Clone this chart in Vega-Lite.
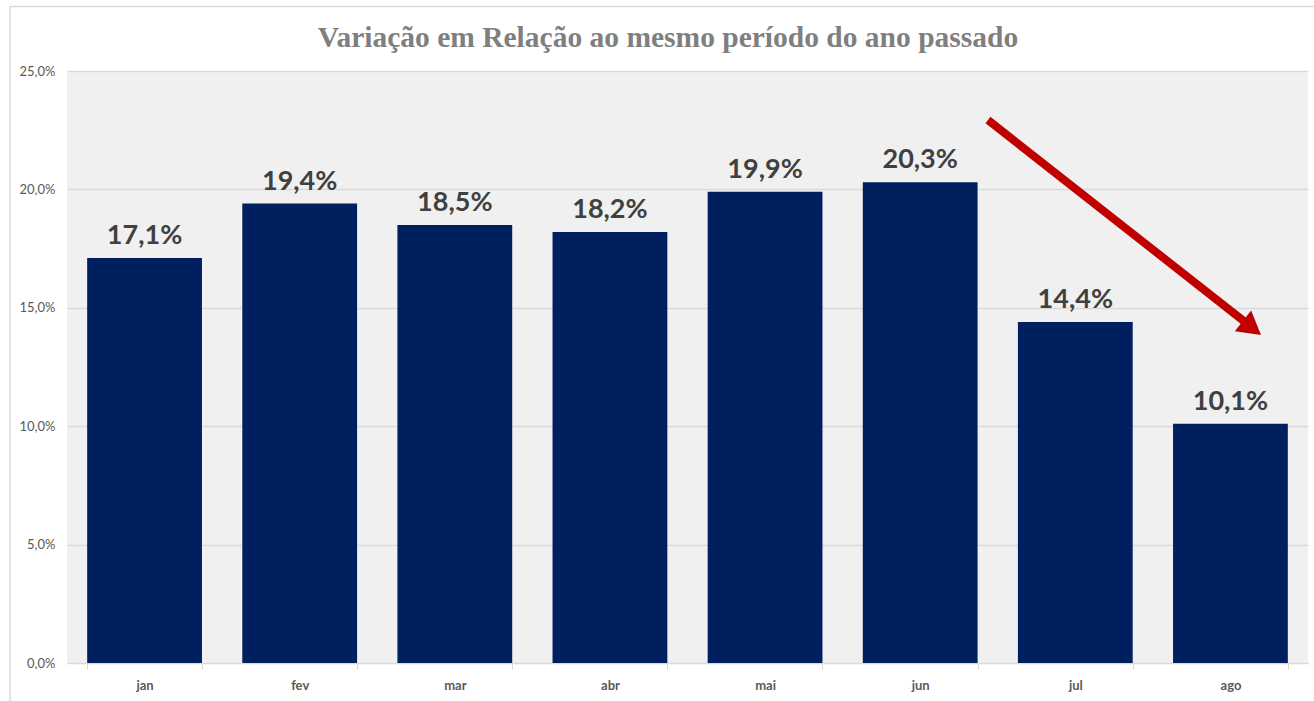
{
  "$schema": "https://vega.github.io/schema/vega-lite/v6.json",
  "width": 1241,
  "height": 592,
  "autosize": {"type": "none"},
  "padding": {"left": 67, "top": 71, "right": 6, "bottom": 38},
  "background": "white",
  "title": {
    "text": "Variação em Relação ao mesmo período do ano passado",
    "font": "Liberation Serif",
    "fontSize": 29.5,
    "fontWeight": "bold",
    "color": "#7f7f7f",
    "anchor": "middle",
    "frame": "group",
    "dx": -19.5,
    "offset": -48
  },
  "config": {
    "locale": {"number": {"decimal": ",", "thousands": ".", "grouping": [3], "currency": ["R$", ""]}},
    "view": {"fill": "#f0f0f0", "stroke": null}
  },
  "datasets": {
    "frame": [{"x": -0.367, "x2": 8.2, "y": 0.2772, "y2": -0.03}],
    "arrow": [{"x": 5.937, "y": 0.2293, "x2": 7.594, "y2": 0.144}],
    "head": [{"x": 7.639, "y": 0.1415}]
  },
  "data": {"values": [
    {"mes": "jan", "v": 0.171},
    {"mes": "fev", "v": 0.194},
    {"mes": "mar", "v": 0.185},
    {"mes": "abr", "v": 0.182},
    {"mes": "mai", "v": 0.199},
    {"mes": "jun", "v": 0.203},
    {"mes": "jul", "v": 0.144},
    {"mes": "ago", "v": 0.101}
  ]},
  "layer": [
    {
      "mark": {"type": "bar", "color": "#001f5f"},
      "encoding": {
        "x": {
          "field": "mes", "type": "nominal", "sort": null,
          "scale": {"paddingInner": 0.26, "paddingOuter": 0.13},
          "axis": {
            "title": null, "labelAngle": 0, "labelFont": "Lato", "labelFontSize": 13,
            "labelFontWeight": "bold", "labelColor": "#595959", "labelPadding": 10,
            "domainColor": "#d9d9d9", "tickColor": "#d9d9d9", "tickSize": 6,
            "tickBand": "extent", "grid": false
          }
        },
        "y": {
          "field": "v", "type": "quantitative",
          "scale": {"domain": [0, 0.25], "nice": false},
          "axis": {
            "title": null, "format": ".1%", "values": [0, 0.05, 0.1, 0.15, 0.2, 0.25],
            "labelFont": "Lato", "labelFontSize": 13, "labelColor": "#595959",
            "labelPadding": 12, "domain": false, "ticks": false,
            "gridColor": "#d9d9d9", "gridWidth": 1.3
          }
        }
      }
    },
    {
      "mark": {"type": "text", "baseline": "bottom", "dy": -8, "font": "Lato", "fontSize": 27, "fontWeight": "bold", "color": "#404040"},
      "encoding": {
        "x": {"field": "mes", "type": "nominal", "sort": null, "axis": null},
        "y": {"field": "v", "type": "quantitative"},
        "text": {"field": "v", "type": "quantitative", "format": ".1%"}
      }
    },
    {
      "data": {"name": "frame"},
      "mark": {"type": "rect", "fill": null, "stroke": "#d9d9d9", "strokeWidth": 1.5},
      "encoding": {
        "x": {"field": "x", "type": "quantitative", "scale": {"domain": [0, 8], "nice": false, "zero": false}, "axis": null},
        "x2": {"field": "x2"},
        "y": {"field": "y", "type": "quantitative"},
        "y2": {"field": "y2"}
      }
    },
    {
      "data": {"name": "arrow"},
      "mark": {"type": "rule", "color": "#c00000", "strokeWidth": 8},
      "encoding": {
        "x": {"field": "x", "type": "quantitative", "scale": {"domain": [0, 8], "nice": false, "zero": false}, "axis": null},
        "y": {"field": "y", "type": "quantitative"},
        "x2": {"field": "x2"},
        "y2": {"field": "y2"}
      }
    },
    {
      "data": {"name": "head"},
      "mark": {"type": "point", "shape": "triangle-right", "angle": 38, "size": 700, "filled": true, "color": "#c00000", "opacity": 1},
      "encoding": {
        "x": {"field": "x", "type": "quantitative", "scale": {"domain": [0, 8], "nice": false, "zero": false}, "axis": null},
        "y": {"field": "y", "type": "quantitative"}
      }
    }
  ],
  "resolve": {"scale": {"x": "independent"}, "axis": {"x": "independent"}}
}
